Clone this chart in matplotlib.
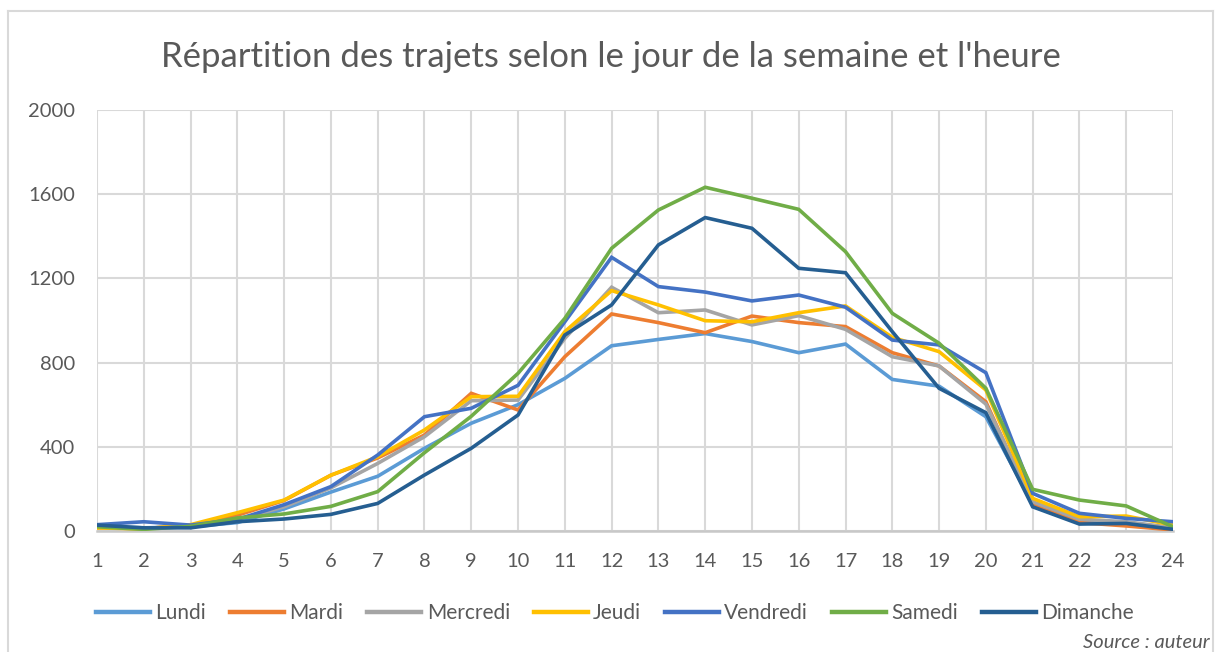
import matplotlib
matplotlib.use("Agg")
import matplotlib.pyplot as plt
from matplotlib.lines import Line2D

hours = list(range(1, 25))
days = ["Lundi", "Mardi", "Mercredi", "Jeudi", "Vendredi", "Samedi", "Dimanche"]
lundi = [22, 15, 20, 40, 105, 185, 260, 393, 512, 600, 725, 880, 910, 938, 900, 847, 888, 720, 688, 543, 130, 45, 40, 15]
mardi = [15, 12, 25, 75, 145, 265, 347, 456, 654, 575, 828, 1031, 990, 942, 1021, 990, 971, 847, 784, 614, 124, 40, 24, 5]
mercredi = [18, 12, 25, 55, 115, 205, 321, 448, 619, 622, 915, 1158, 1037, 1050, 979, 1023, 958, 828, 784, 603, 139, 56, 44, 15]
jeudi = [15, 10, 30, 87, 147, 265, 353, 480, 638, 640, 947, 1142, 1074, 999, 994, 1037, 1069, 920, 852, 670, 155, 68, 71, 28]
vendredi = [30, 44, 28, 55, 125, 211, 361, 543, 583, 692, 994, 1300, 1161, 1135, 1093, 1121, 1063, 907, 884, 752, 179, 84, 60, 44]
samedi = [20, 8, 22, 62, 81, 117, 187, 372, 545, 749, 1010, 1343, 1525, 1633, 1581, 1528, 1327, 1034, 892, 678, 198, 147, 119, 20]
dimanche = [28, 15, 15, 44, 57, 79, 131, 266, 393, 551, 931, 1074, 1359, 1489, 1438, 1248, 1227, 947, 678, 562, 115, 33, 36, 8]
series = [lundi, mardi, mercredi, jeudi, vendredi, samedi, dimanche]
colors = ["#5B9BD5", "#ED7D31", "#A5A5A5", "#FFC000", "#4472C4", "#70AD47", "#255E91"]
yticks = [0, 400, 800, 1200, 1600, 2000]

plt.rcParams['font.family'] = ['Lato', 'DejaVu Sans']
txt = "#595959"
grid = "#D9D9D9"

fig = plt.figure(figsize=(12.18, 6.52), dpi=100)
ax = fig.add_axes([97/1218, 1 - 531/652, (1173-97)/1218, (531-110)/652])

for vals, c, d in zip(series, colors, days):
    ax.plot(hours, vals, color=c, lw=2.6, label=d, solid_joinstyle='miter', zorder=3)

ax.set_xlim(1, 24)
ax.set_ylim(0, 2000)
ax.set_xticks(hours)
ax.set_yticks(yticks)
ax.grid(True, color=grid, lw=1.5, zorder=0)
for s in ax.spines.values():
    s.set_visible(False)
ax.axhline(0, color="#C8C8C8", lw=1.8, zorder=2, clip_on=False)
ax.tick_params(length=0, labelsize=14.5, labelcolor=txt)
ax.tick_params(axis='x', pad=16)
ax.tick_params(axis='y', pad=16)

fig.text(0.502, 1 - 57/652, "Répartition des trajets selon le jour de la semaine et l'heure",
         ha='center', va='center', fontsize=25, color=txt)

leg = fig.legend(loc='center', bbox_to_anchor=(0.505, 1 - 613/652), ncol=7, frameon=False,
                 fontsize=15, handlelength=2.6, handletextpad=0.25, columnspacing=1.15,
                 labelcolor=txt)
for h in leg.legend_handles:
    h.set_linewidth(3.2)

fig.text(1210/1218, 1 - 643/652, "Source : auteur", ha='right', va='center',
         fontsize=14.5, style='italic', color=txt)

# chart frame
fc = "#D9D9D9"
fig.add_artist(Line2D([8/1218, 8/1218], [0, 1 - 11/652], color=fc, lw=1.5, transform=fig.transFigure))
fig.add_artist(Line2D([8/1218, 1213/1218], [1 - 11/652, 1 - 11/652], color=fc, lw=1.5, transform=fig.transFigure))
fig.add_artist(Line2D([1213/1218, 1213/1218], [0, 1 - 11/652], color=fc, lw=1.5, transform=fig.transFigure))

fig.savefig("out.png", dpi=100, facecolor="white")
